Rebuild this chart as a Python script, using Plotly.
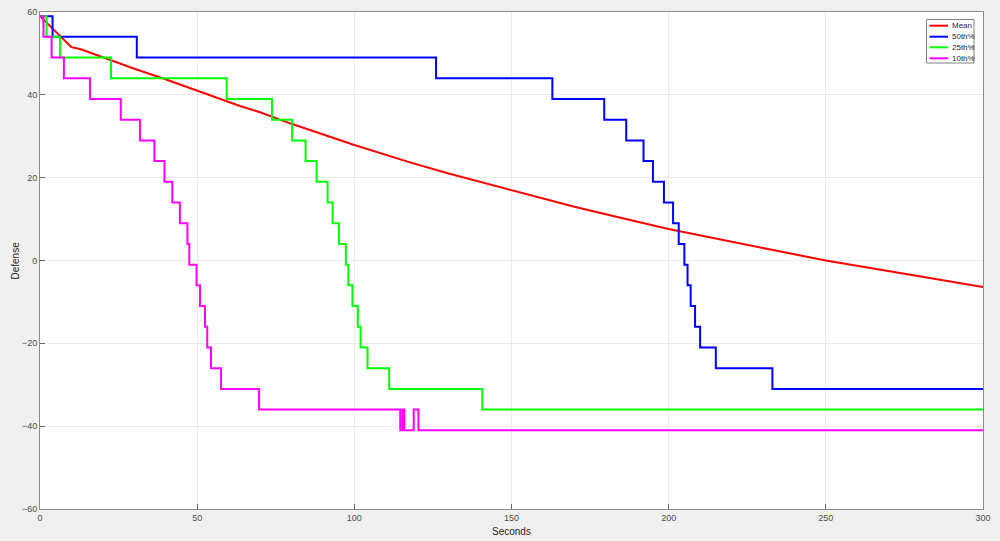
import plotly.graph_objects as go

# Mean curve (read points)
mean_x = [0, 10, 13, 22, 30, 39, 50, 63.6, 70, 80, 100, 117.7, 130, 150, 170, 187.7, 200, 232, 250, 275, 300]
mean_y = [59, 51.5, 51, 48.5, 46.3, 44, 41, 37.3, 35.8, 33, 27.9, 23.7, 21, 17, 13, 9.8, 7.6, 2.7, 0, -3.2, -6.4]

# 50th percentile (step changes)
p50_x = [0, 4, 30.8, 126, 163, 179.5, 186.5, 192, 195, 198.5, 201.4, 203.2, 205, 206, 207, 208.4, 210, 215, 233, 300]
p50_y = [59, 54, 49, 44, 39, 34, 29, 24, 19, 14, 9, 4, -1, -6, -11, -16, -21, -26, -31, -31]

# 25th percentile
p25_x = [0, 2.1, 6.4, 22.6, 59.4, 73.8, 80.2, 84.5, 88, 91.5, 93.1, 95.1, 97.3, 98.1, 99.4, 101.1, 102, 104.2, 111.1, 140.7, 300]
p25_y = [59, 54, 49, 44, 39, 34, 29, 24, 19, 14, 9, 4, -1, -6, -11, -16, -21, -26, -31, -36, -36]

# 10th percentile
p10_x = [0, 1.1, 3.7, 7.6, 15.9, 25.7, 31.8, 36.4, 39.6, 42.1, 44.5, 46.9, 47.5, 49.8, 50.9, 52.5, 53.2, 54.4, 57.6, 69.7,
         114.6, 115.3, 115.9, 118.9, 120.4, 300]
p10_y = [59, 54, 49, 44, 39, 34, 29, 24, 19, 14, 9, 4, -1, -6, -11, -16, -21, -26, -31, -36,
         -41, -36, -41, -36, -41, -41]

series_names = ["Mean", "50th%", "25th%", "10th%"]
series_colors = ["#ff0000", "#0000ff", "#00ff00", "#ff00ff"]

x_ticks = [0, 50, 100, 150, 200, 250, 300]
y_ticks = [-60, -40, -20, 0, 20, 40, 60]

W, H = 1000, 541
L, R, T, B = 40, 17, 12, 32
PW, PH = W - L - R, H - T - B

def px_x(p):
    return (p - L) / PW

def px_y(p):
    return 1 - (p - T) / PH

fig = go.Figure()
data = [(mean_x, mean_y, "linear"), (p50_x, p50_y, "hv"), (p25_x, p25_y, "hv"), (p10_x, p10_y, "hv")]
for (xs, ys, shp), nm, col in zip(data, series_names, series_colors):
    fig.add_trace(go.Scatter(x=xs, y=ys, mode="lines", name=nm, showlegend=False,
                             line=dict(color=col, width=2, shape=shp)))

tickfont = dict(family="Liberation Sans, Arial, sans-serif", size=9, color="#4d4d4d")
axis_common = dict(showline=True, linecolor="#8c8c8c", linewidth=1, mirror=True,
                   ticks="inside", ticklen=5, tickcolor="#666666",
                   showgrid=True, gridcolor="#ebebeb", gridwidth=1, zeroline=False,
                   automargin=False, tickfont=tickfont)

shapes = []
annotations = []
# manual legend
shapes.append(dict(type="rect", xref="paper", yref="paper",
                   x0=px_x(926.5), x1=px_x(974), y0=px_y(63), y1=px_y(19.5),
                   line=dict(color="#808080", width=1), fillcolor="#ffffff", layer="above"))
leg_y = [25.7, 36.7, 47.3, 58.3]
for ly, nm, col in zip(leg_y, series_names, series_colors):
    shapes.append(dict(type="line", xref="paper", yref="paper",
                       x0=px_x(929.5), x1=px_x(948), y0=px_y(ly), y1=px_y(ly),
                       line=dict(color=col, width=2), layer="above"))
    annotations.append(dict(text=nm, xref="paper", yref="paper", x=px_x(950), y=px_y(ly),
                            xanchor="left", yanchor="middle", showarrow=False,
                            font=dict(family="Liberation Sans, Arial, sans-serif", size=8, color="#262626")))

# axis titles
annotations.append(dict(text="Seconds", xref="paper", yref="paper", x=0.5, y=px_y(531),
                        xanchor="center", yanchor="middle", showarrow=False,
                        font=dict(family="Liberation Sans, Arial, sans-serif", size=10, color="#262626")))
annotations.append(dict(text="Defense", xref="paper", yref="paper", x=px_x(15), y=0.5,
                        xanchor="center", yanchor="middle", showarrow=False, textangle=-90,
                        font=dict(family="Liberation Sans, Arial, sans-serif", size=10, color="#262626")))

fig.update_layout(
    width=W, height=H,
    paper_bgcolor="#f0f0f0", plot_bgcolor="#ffffff",
    margin=dict(l=L, r=R, t=T, b=B),
    font=dict(family="Liberation Sans, Arial, sans-serif", size=9, color="#262626"),
    xaxis=dict(range=[0, 300], tickvals=x_ticks, **axis_common),
    yaxis=dict(range=[-60, 60], tickvals=y_ticks, **axis_common),
    shapes=shapes, annotations=annotations,
    showlegend=False,
)

fig.write_html("out.html", config={"displayModeBar": False},
               post_script="document.body.style.margin='0px';document.body.style.background='#f0f0f0';")
